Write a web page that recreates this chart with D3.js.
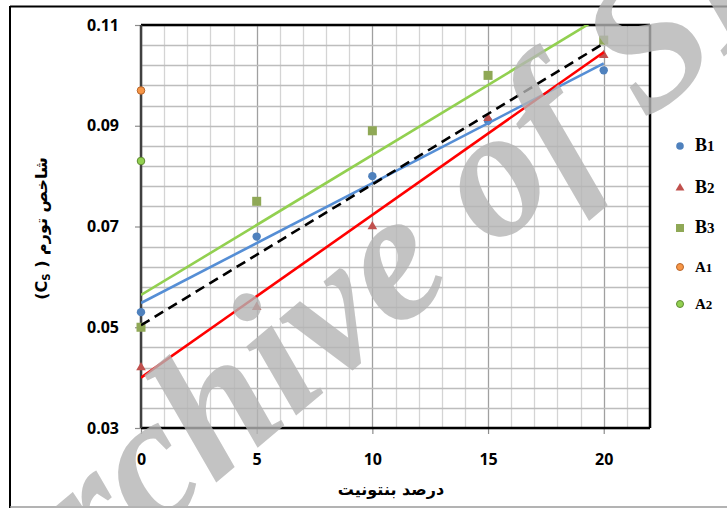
<!DOCTYPE html>
<html>
<head>
<meta charset="utf-8">
<script src="https://cdn.jsdelivr.net/npm/d3@7"></script>
<style>
  body { margin: 0; background: #fff; }
  svg { display: block; }
</style>
</head>
<body>
<div id="chart"></div>
<script>
// bentonite percent on x, swelling index Cs on y
const bentonite = [0, 5, 10, 15, 20];
const B1 = [0.053, 0.068, 0.080, 0.091, 0.101];
const B2 = [0.042, 0.054, 0.070, 0.0915, 0.104];
const B3 = [0.050, 0.075, 0.089, 0.100, 0.107];
const A1 = [0.097];
const A2 = [0.083];
const A_x = [0];

const xTicks = [0, 5, 10, 15, 20];
const yTicks = [0.03, 0.05, 0.07, 0.09, 0.11];
const legendNames = ["B1", "B2", "B3", "A1", "A2"];

const xTitle = "درصد بنتونیت";
const yTitle = "شاخص تورم";

function fit(xs, ys) {
  const mx = d3.mean(xs), my = d3.mean(ys);
  const sxy = d3.sum(xs, (x, i) => (x - mx) * (ys[i] - my));
  const sxx = d3.sum(xs, x => (x - mx) * (x - mx));
  const b = sxy / sxx;
  return { a: my - b * mx, b: b };
}

class Chart {
  constructor(config) {
    this.config = config;
    this.svg = null;
    this.plot = null;
    this.xScale = null;
    this.yScale = null;

    this.createSvg();
    this.createScales();
    this.createGrid();
    this.createAxis();
    this.render();
    this.createLegend();
    this.createWatermark();
  }

  createSvg() {
    const c = this.config;
    this.svg = d3.select(c.div).append("svg")
      .attr("width", 727)
      .attr("height", 508);

    // outer frame
    this.svg.append("line").attr("x1", 10).attr("x2", 727).attr("y1", 6.5).attr("y2", 6.5)
      .attr("stroke", "#000").attr("stroke-width", 2);
    this.svg.append("line").attr("x1", 10).attr("x2", 10).attr("y1", 6).attr("y2", 508)
      .attr("stroke", "#000").attr("stroke-width", 2);
    this.svg.append("line").attr("x1", 10).attr("x2", 727).attr("y1", 507).attr("y2", 507)
      .attr("stroke", "#9a9a9a").attr("stroke-width", 1.5);

    this.plot = this.svg.append("g")
      .attr("transform", `translate(${c.left},${c.top})`);
  }

  createScales() {
    const c = this.config;
    this.xScale = d3.scaleLinear().domain([0, 22]).range([0, c.width]);
    this.yScale = d3.scaleLinear().domain([0.03, 0.11]).range([c.height, 0]);
  }

  createGrid() {
    const c = this.config;
    const grid = this.plot.append("g");
    const xs = d3.range(0, 23);
    const ys = d3.range(0, 21).map(i => 0.03 + i * 0.004);

    grid.selectAll(".vx").data(xs).enter().append("line")
      .attr("x1", d => Math.round(this.xScale(d)) + 0.5)
      .attr("x2", d => Math.round(this.xScale(d)) + 0.5)
      .attr("y1", 0).attr("y2", c.height)
      .attr("stroke", d => d % 5 === 0 ? "#a0a0a0" : "#d4d4d4")
      .attr("stroke-width", 1.3);

    grid.selectAll(".hy").data(ys).enter().append("line")
      .attr("x1", 0).attr("x2", c.width)
      .attr("y1", d => Math.round(this.yScale(d)) + 0.5)
      .attr("y2", d => Math.round(this.yScale(d)) + 0.5)
      .attr("stroke", "#bdbdbd")
      .attr("stroke-width", 1.3);
  }

  createAxis() {
    const c = this.config;
    const xAxis = d3.axisBottom(this.xScale).tickValues(xTicks).tickSize(6).tickPadding(20);
    const yAxis = d3.axisLeft(this.yScale).tickValues(yTicks).tickSize(6).tickPadding(16)
      .tickFormat(d3.format(".2f"));

    const gx = this.plot.append("g")
      .attr("transform", `translate(0,${c.height})`)
      .call(xAxis);
    const gy = this.plot.append("g").call(yAxis);

    [gx, gy].forEach(g => {
      g.select(".domain").remove();
      g.selectAll(".tick line").attr("stroke", "#8c8c8c").attr("stroke-width", 1.2);
      g.selectAll("text")
        .style("font-family", "'Open Sans', 'Noto Sans', sans-serif")
        .style("font-weight", "bold")
        .style("font-size", "16px")
        .attr("fill", "#000");
    });
    gx.selectAll(".tick line").attr("y1", 0);
    gy.selectAll(".tick line").attr("x1", 0);

    // plot border
    this.plot.append("line").attr("x1", 0).attr("x2", c.width).attr("y1", 0).attr("y2", 0)
      .attr("stroke", "#000").attr("stroke-width", 2.5);
    this.plot.append("line").attr("x1", c.width).attr("x2", c.width).attr("y1", 0).attr("y2", c.height)
      .attr("stroke", "#000").attr("stroke-width", 2.5);
    this.plot.append("line").attr("x1", 0).attr("x2", c.width).attr("y1", c.height).attr("y2", c.height)
      .attr("stroke", "#000").attr("stroke-width", 2.5);
    this.plot.append("line").attr("x1", 0).attr("x2", 0).attr("y1", 0).attr("y2", c.height)
      .attr("stroke", "#404040").attr("stroke-width", 2.5);

    // titles
    this.svg.append("text")
      .attr("x", 391)
      .attr("y", 495)
      .attr("text-anchor", "middle")
      .attr("direction", "rtl")
      .style("font-family", "'DejaVu Sans', sans-serif")
      .style("font-weight", "bold")
      .style("font-size", "16px")
      .text(xTitle);

    const yt = this.svg.append("text")
      .attr("transform", `translate(47,${c.top + c.height / 2 + 2}) rotate(-90)`)
      .attr("text-anchor", "middle")
      .style("font-family", "'DejaVu Sans', sans-serif")
      .style("font-weight", "bold")
      .style("font-size", "16px");
    yt.append("tspan").text("(C");
    yt.append("tspan").attr("font-size", "10px").attr("dy", 3).text("S");
    yt.append("tspan").attr("dy", -3).text(" ) ");
    yt.append("tspan").text(yTitle);
  }

  render() {
    const c = this.config;
    const x = this.xScale, y = this.yScale;

    this.svg.append("clipPath").attr("id", "clip")
      .append("rect").attr("width", c.width).attr("height", c.height);

    const pts = (xs, ys) => xs.map((d, i) => ({ x: d, y: ys[i] }));
    const avg = bentonite.map((d, i) => (B1[i] + B2[i] + B3[i]) / 3);

    const lines = [
      { f: fit(bentonite, B1), color: "#558ed5", dash: null },
      { f: fit(bentonite, B2), color: "#ff0000", dash: null },
      { f: fit(bentonite, B3), color: "#92d050", dash: null },
      { f: fit(bentonite, avg), color: "#000", dash: "10,6" }
    ];

    // markers
    const mk = this.plot.append("g");
    mk.selectAll(".b1").data(pts(bentonite, B1)).enter().append("circle")
      .attr("cx", d => x(d.x)).attr("cy", d => y(d.y)).attr("r", 4.2)
      .attr("fill", "#4f81bd");
    mk.selectAll(".b2").data(pts(bentonite, B2)).enter().append("path")
      .attr("transform", d => `translate(${x(d.x)},${y(d.y)})`)
      .attr("d", d3.symbol(d3.symbolTriangle, 40))
      .attr("fill", "#c0504d");
    mk.selectAll(".b3").data(pts(bentonite, B3)).enter().append("rect")
      .attr("x", d => x(d.x) - 4.5).attr("y", d => y(d.y) - 4.5)
      .attr("width", 9).attr("height", 9)
      .attr("fill", "#8fa856");
    mk.selectAll(".a1").data(pts(A_x, A1)).enter().append("circle")
      .attr("cx", d => x(d.x)).attr("cy", d => y(d.y)).attr("r", 3.8)
      .attr("fill", "#f79646").attr("stroke", "#b7652a").attr("stroke-width", 1);
    mk.selectAll(".a2").data(pts(A_x, A2)).enter().append("circle")
      .attr("cx", d => x(d.x)).attr("cy", d => y(d.y)).attr("r", 3.8)
      .attr("fill", "#92d050").attr("stroke", "#5f8a32").attr("stroke-width", 1);

    // trend lines over the markers
    const tl = this.plot.append("g").attr("clip-path", "url(#clip)");
    tl.selectAll("line").data(lines).enter().append("line")
      .attr("x1", x(0)).attr("x2", x(20))
      .attr("y1", d => y(d.f.a))
      .attr("y2", d => y(d.f.a + d.f.b * 20))
      .attr("stroke", d => d.color)
      .attr("stroke-width", 2.6)
      .attr("stroke-dasharray", d => d.dash);
  }

  createLegend() {
    const rows = [146, 188, 228, 267, 304];
    const g = this.svg.append("g");
    const kinds = ["b1", "b2", "b3", "a1", "a2"];
    kinds.forEach((k, i) => {
      const cy = rows[i];
      if (k === "b1") g.append("circle").attr("cx", 680).attr("cy", cy).attr("r", 3.8).attr("fill", "#4f81bd");
      if (k === "b2") g.append("path").attr("transform", `translate(680,${cy})`)
        .attr("d", d3.symbol(d3.symbolTriangle, 34)).attr("fill", "#c0504d");
      if (k === "b3") g.append("rect").attr("x", 676).attr("y", cy - 4).attr("width", 8).attr("height", 8).attr("fill", "#8fa856");
      if (k === "a1") g.append("circle").attr("cx", 680).attr("cy", cy).attr("r", 3.5)
        .attr("fill", "#f79646").attr("stroke", "#b7652a").attr("stroke-width", 1);
      if (k === "a2") g.append("circle").attr("cx", 680).attr("cy", cy).attr("r", 3.5)
        .attr("fill", "#92d050").attr("stroke", "#5f8a32").attr("stroke-width", 1);

      const t = g.append("text")
        .attr("x", 695).attr("y", cy + 5)
        .style("font-family", "'Liberation Serif', serif")
        .style("font-weight", "bold")
        .style("font-size", i < 3 ? "18px" : "15px");
      t.append("tspan").text(legendNames[i][0]);
      t.append("tspan").style("font-size", i < 3 ? "15px" : "13px").text(legendNames[i][1]);
    });
  }

  createWatermark() {
    this.svg.append("text")
      .attr("transform", "translate(1,663) rotate(-40)")
      .style("font-family", "'Liberation Serif', serif")
      .style("font-weight", "bold")
      .style("font-style", "italic")
      .style("font-size", "185px")
      .attr("fill", "#b4b4b4")
      .attr("fill-opacity", 0.8)
      .text("Archive of SID");
  }
}

const app = new Chart({ div: "#chart", width: 509, height: 403, top: 25, left: 141 });
</script>
</body>
</html>
